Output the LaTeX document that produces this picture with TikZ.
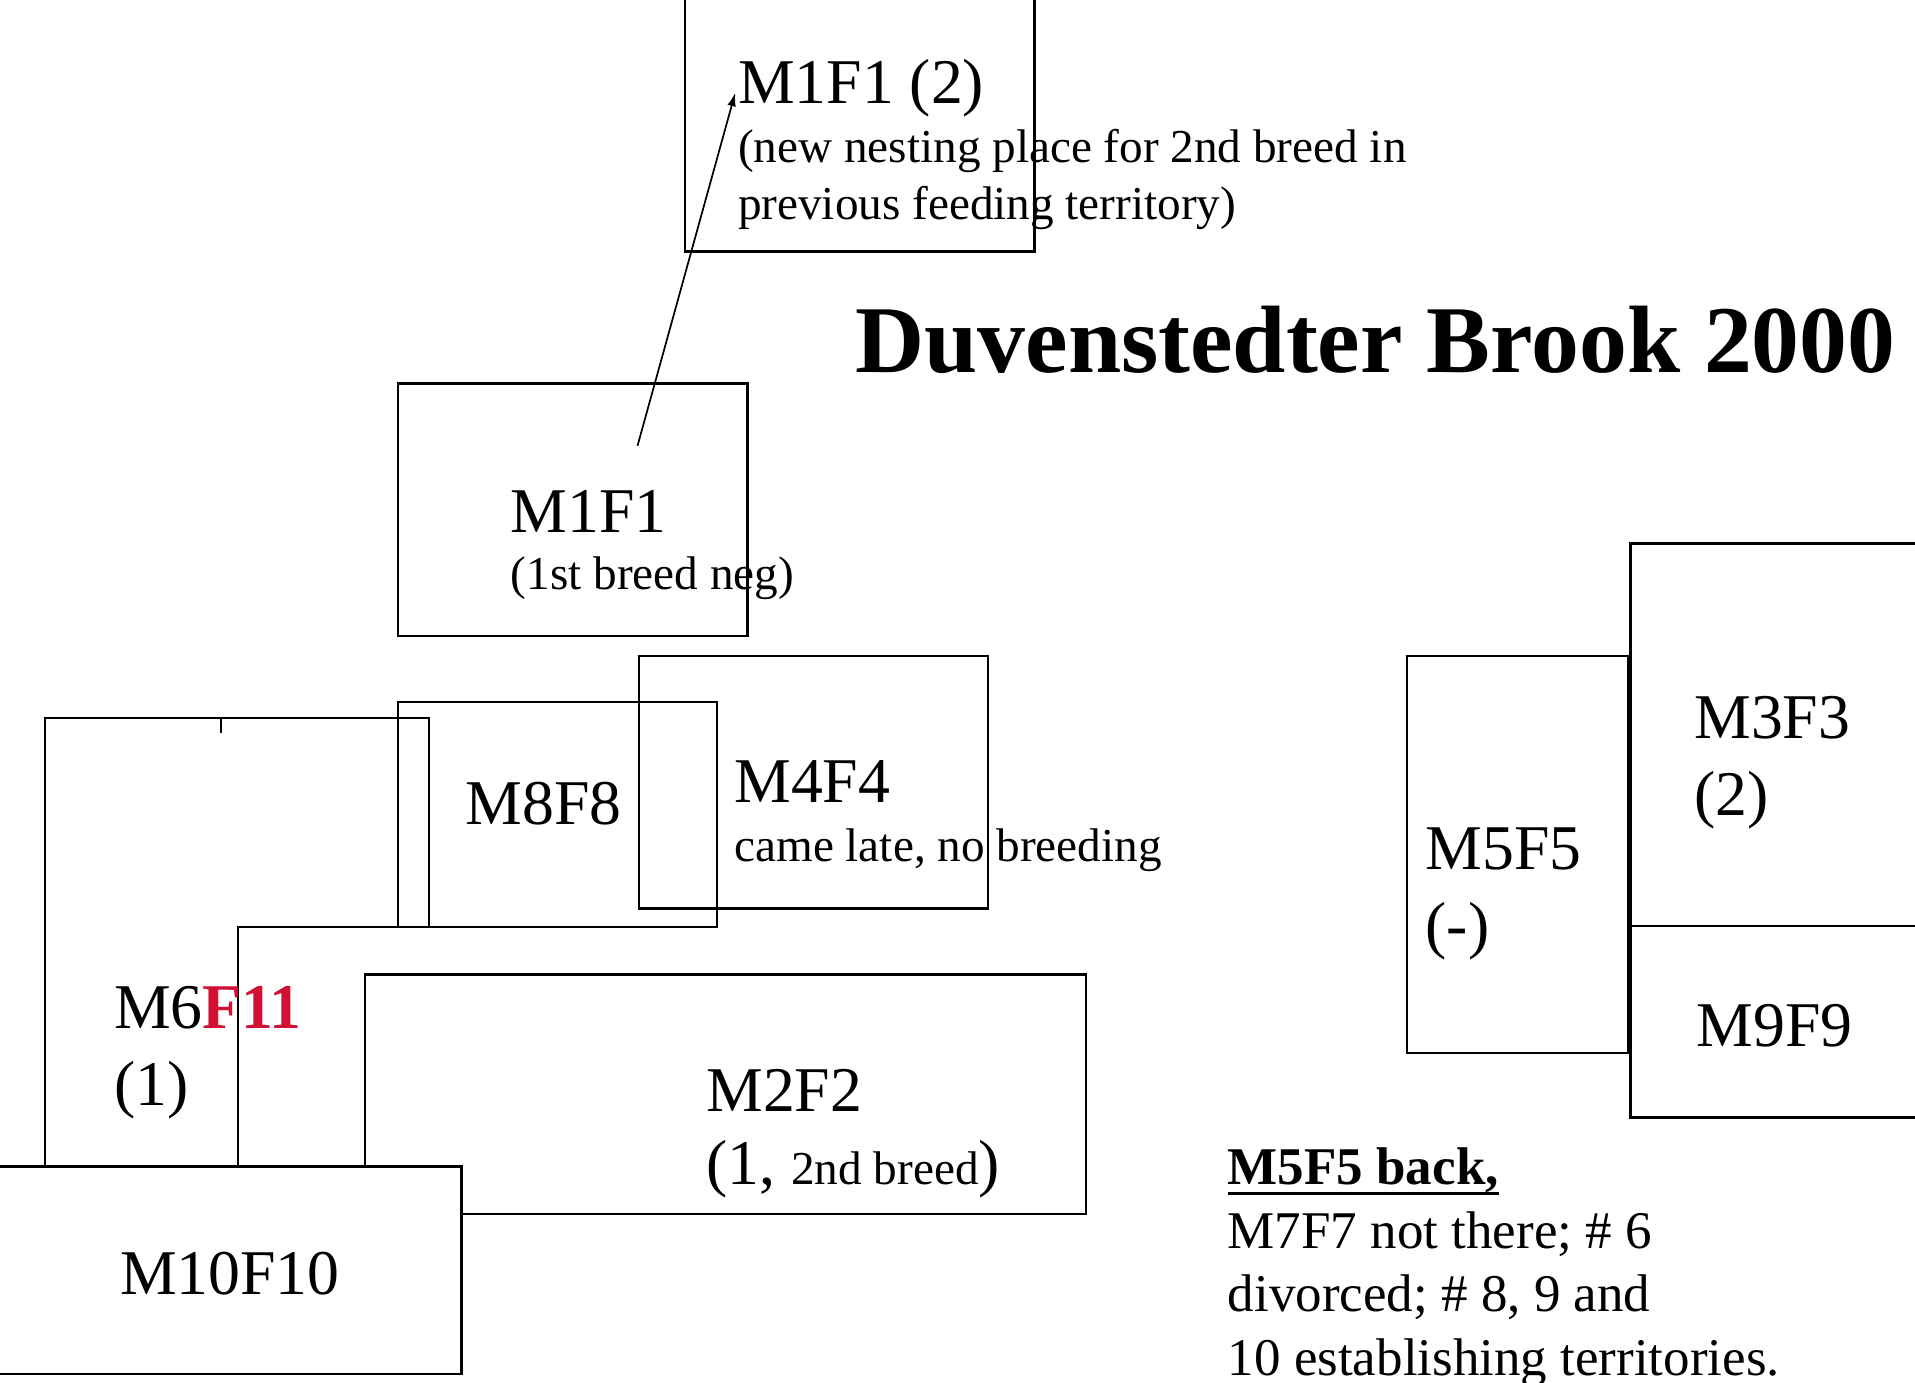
\documentclass[tikz,border=0pt]{standalone}
\usepackage{fontspec}
\setmainfont{Liberation Serif}
\usepackage{xcolor}
\usetikzlibrary{arrows.meta}
\definecolor{femred}{RGB}{210,16,52}
\newcommand{\bigsize}{\fontsize{29.7}{36}\selectfont}
\newcommand{\smallsize}{\fontsize{22}{26.7}\selectfont}
\newsavebox{\ulbox}
\newcommand{\boldul}[1]{\sbox{\ulbox}{#1}\usebox{\ulbox}\llap{\rule[-5pt]{\wd\ulbox}{1.4pt}}}
\tikzset{
  territory/.style={draw=black,line width=1.1pt},
  pairlabel/.style={anchor=base west,inner sep=0pt,align=left,font=\bigsize},
  remarklabel/.style={anchor=base west,inner sep=0pt,align=left,font=\smallsize},
  notelabel/.style={anchor=base west,inner sep=0pt,align=left,
    font=\fontsize{24.7}{29.6}\selectfont},
  titlelabel/.style={anchor=base west,inner sep=0pt,font=\fontsize{44.6}{50}\selectfont\bfseries},
  movearrow/.style={-{Latex[length=2.2mm,width=1.4mm]},line width=0.8pt}
}

\begin{document}
\begin{tikzpicture}[x=0.02cm,y=-0.02cm]
  \useasboundingbox (0,0) rectangle (1568,1132);

  % territories
  \draw[territory] (561,-10) rectangle (847,206);
  \draw[territory] (326,314) rectangle (612,521);
  \draw[territory] (37,955) -- (37,588) -- (351,588) -- (351,759)
    -- (195,759) -- (195,955);
  \draw[territory] (181,588) -- (181,600);
  \draw[territory] (326,575) rectangle (587,759);
  \draw[territory] (523,537) rectangle (809,744);
  \draw[territory] (299,798) rectangle (889,994);
  \draw[territory,fill=white] (-10,955) rectangle (378,1125);
  \draw[territory] (1152,537) rectangle (1333,862);
  \draw[territory] (1335,445) rectangle (1580,758);
  \draw[territory] (1335,758) rectangle (1580,915);

  % labels (multi-line ones sit on their last baseline)
  \node[pairlabel] (m1f1b) at (604,85) {M1F1 (2)};
  \node[remarklabel] (m1f1bnote) at (604,180)
    {(new nesting place for 2nd breed in\\previous feeding territory)};
  \node[titlelabel] (title) at (700,305) {Duvenstedter Brook 2000};
  \node[pairlabel] (m1f1) at (418,436) {M1F1};
  \node[remarklabel] (m1f1note) at (418,483) {(1st breed neg)};
  \node[pairlabel] (m8f8) at (381,675) {M8F8};
  \node[pairlabel] (m4f4) at (601,657) {M4F4};
  \node[remarklabel] (m4f4note) at (601,705) {came late, no breeding};
  \node[pairlabel] (m6f11) at (93,905) {M6\textcolor{femred}{\bfseries F11}\\(1)};
  \node[pairlabel] (m2f2) at (578,910) {M2F2};
  \node[pairlabel] (m2f2note) at (578,970) {(1, {\smallsize 2nd breed})};
  \node[pairlabel] (m10f10) at (98,1060) {M10F10};
  \node[pairlabel] (m5f5) at (1167,775) {M5F5\\(-)};
  \node[pairlabel] (m3f3) at (1387,668) {M3F3\\(2)};
  \node[pairlabel] (m9f9) at (1389,857) {M9F9};
  \node[notelabel] (summary) at (1005,1126)
    {\boldul{\bfseries M5F5 back,}\\M7F7 not there; \# 6\\divorced; \# 8, 9 and\\10 establishing territories.};

  % move to second nest
  \coordinate (nest1) at (522,365);
  \coordinate (nest2) at (602,76);
  \draw[movearrow] (nest1) -- (nest2);
\end{tikzpicture}
\end{document}
